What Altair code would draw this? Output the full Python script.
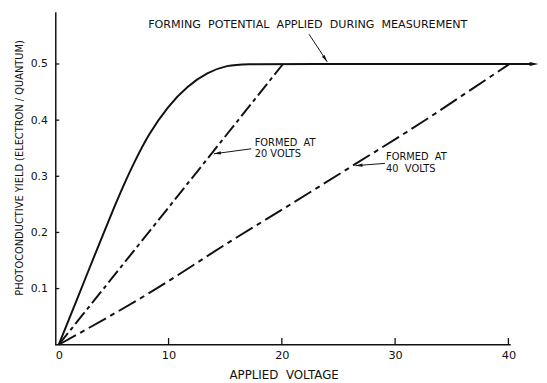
import altair as alt
import pandas as pd

# ---- data ----
solid_x = [0.3, 2.0, 4.0, 5.3, 6.2, 7.0, 8.2, 9.94, 11.68, 13.42, 15.16, 16.9, 20.0, 42.0]
solid_y = [0.0, 0.085, 0.186, 0.25, 0.292, 0.326, 0.374, 0.425, 0.461, 0.485, 0.498, 0.5, 0.5, 0.5]

v20_x = [0.3, 9.94, 16.9, 20.1]
v20_y = [0.0, 0.243, 0.419, 0.5]

v40_x = [0.3, 8.2, 16.0, 19.8, 26.5, 32.5, 36.9, 40.1]
v40_y = [0.0, 0.091, 0.191, 0.238, 0.322, 0.398, 0.457, 0.5]

x_ticks = [0, 10, 20, 30, 40]
y_ticks = [0.1, 0.2, 0.3, 0.4, 0.5]

NB = "\u00a0"
x_title = f"APPLIED{NB} VOLTAGE"
y_title = "PHOTOCONDUCTIVE  YIELD (ELECTRON / QUANTUM)"

# annotations: text lines (x, y, text)
notes_text = [f"FORMING{NB} POTENTIAL{NB} APPLIED{NB} DURING{NB} MEASUREMENT",
              f"FORMED{NB} AT", "20 VOLTS", f"FORMED{NB} AT", f"40{NB} VOLTS"]
notes_x = [8.2, 17.6, 17.6, 29.2, 29.2]
notes_y = [0.570, 0.360, 0.339, 0.334, 0.313]
notes_size = [11.3, 10, 10, 10, 10]

# annotation arrows: start -> tip, and head angle
arrow_x1 = [22.4, 17.3, 29.1]
arrow_y1 = [0.553, 0.349, 0.323]
arrow_x2 = [24.0, 14.0, 26.5]
arrow_y2 = [0.504, 0.340, 0.319]
arrow_ang = [146, 262, 266]

# end arrow of the flat line
end_x = [42.65]
end_y = [0.5]
end_ang = [90]

X_DOMAIN = [0, 42.7]
Y_DOMAIN = [0, 0.593]
W, H = 491, 338
INK = "#111111"
FONT = "DejaVu Sans"

xs = alt.Scale(domain=X_DOMAIN, nice=False, zero=False)
ys = alt.Scale(domain=Y_DOMAIN, nice=False, zero=False)

solid_df = pd.DataFrame({"x": solid_x, "y": solid_y})
v20_df = pd.DataFrame({"x": v20_x, "y": v20_y})
v40_df = pd.DataFrame({"x": v40_x, "y": v40_y})

xaxis = alt.Axis(values=x_ticks, domain=False, ticks=False, grid=False, title=None,
                 labelFont=FONT, labelFontSize=11.5, labelColor=INK, labelPadding=5)
yaxis = alt.Axis(values=y_ticks, domain=True, domainColor=INK, domainWidth=1.5,
                 ticks=False, grid=False, format=".1f",
                 labelFont=FONT, labelFontSize=11, labelColor=INK, labelPadding=8,
                 title=y_title, titleFont=FONT, titleFontSize=10, titleFontWeight="normal",
                 titleColor=INK, titleX=-36, titleY=158, titleAngle=270,
                 titleAlign="center", titleBaseline="middle")

base_solid = alt.Chart(solid_df).mark_line(color=INK, strokeWidth=2, interpolate="basis").encode(
    x=alt.X("x:Q", scale=xs, axis=xaxis),
    y=alt.Y("y:Q", scale=ys, axis=yaxis),
)

line20 = alt.Chart(v20_df).mark_line(color=INK, strokeWidth=2, strokeDash=[15, 4, 4, 4]).encode(
    x=alt.X("x:Q", scale=xs), y=alt.Y("y:Q", scale=ys))
line40 = alt.Chart(v40_df).mark_line(color=INK, strokeWidth=2, strokeDash=[20, 5, 5, 5],
                                     interpolate="monotone").encode(
    x=alt.X("x:Q", scale=xs), y=alt.Y("y:Q", scale=ys))

# x axis line (only to 40) and inward ticks
xline = alt.Chart(pd.DataFrame({"a": [0], "b": [40.2], "y": [0]})).mark_rule(color=INK, strokeWidth=1.5).encode(
    x=alt.X("a:Q", scale=xs), x2="b:Q", y=alt.Y("y:Q", scale=ys))
xt_df = pd.DataFrame({"x": x_ticks[1:], "y0": [0] * 4, "y1": [0.012] * 4})
xtick = alt.Chart(xt_df).mark_rule(color=INK, strokeWidth=1.3).encode(
    x=alt.X("x:Q", scale=xs), y=alt.Y("y0:Q", scale=ys), y2="y1:Q")
yt_df = pd.DataFrame({"y": y_ticks, "x0": [0] * 5, "x1": [0.35] * 5})
ytick = alt.Chart(yt_df).mark_rule(color=INK, strokeWidth=1.3).encode(
    y=alt.Y("y:Q", scale=ys), x=alt.X("x0:Q", scale=xs), x2="x1:Q")

notes_df = pd.DataFrame({"x": notes_x, "y": notes_y, "t": notes_text, "s": notes_size})
notes = alt.Chart(notes_df).mark_text(align="left", baseline="middle", font=FONT, color=INK).encode(
    x=alt.X("x:Q", scale=xs), y=alt.Y("y:Q", scale=ys), text="t:N",
    size=alt.Size("s:Q", scale=None, legend=None))

arr_df = pd.DataFrame({"x1": arrow_x1, "y1": arrow_y1, "x2": arrow_x2, "y2": arrow_y2, "a": arrow_ang})
arr_lines = alt.Chart(arr_df).mark_rule(color=INK, strokeWidth=1).encode(
    x=alt.X("x1:Q", scale=xs), y=alt.Y("y1:Q", scale=ys), x2="x2:Q", y2="y2:Q")
HEAD = "M0,0 L0.4,1.7 L-0.4,1.7 Z"
arr_heads = alt.Chart(arr_df).mark_point(shape=HEAD, filled=True, color=INK, size=70, opacity=1).encode(
    x=alt.X("x2:Q", scale=xs), y=alt.Y("y2:Q", scale=ys),
    angle=alt.Angle("a:Q", scale=None))

end_df = pd.DataFrame({"x": end_x, "y": end_y, "a": end_ang})
end_head = alt.Chart(end_df).mark_point(shape=HEAD, filled=True, color=INK, size=110, opacity=1).encode(
    x=alt.X("x:Q", scale=xs), y=alt.Y("y:Q", scale=ys),
    angle=alt.Angle("a:Q", scale=None))

xtitle = alt.Chart(pd.DataFrame({"x": [20.2], "t": [x_title]})).mark_text(
    font=FONT, fontSize=12, color=INK, baseline="middle", align="center").encode(
    x=alt.X("x:Q", scale=xs), y=alt.value(H + 31), text="t:N")

chart = alt.layer(
    base_solid, line20, line40, xline, xtick, ytick, notes, arr_lines, arr_heads, end_head, xtitle
).properties(
    width=W, height=H,
    autosize=alt.AutoSizeParams(type="none"),
    padding={"left": 48, "top": 1, "right": 0, "bottom": 36},
    background="white",
).configure_view(stroke=None)

chart.save("out.html", embed_options={"renderer": "svg", "actions": False})
